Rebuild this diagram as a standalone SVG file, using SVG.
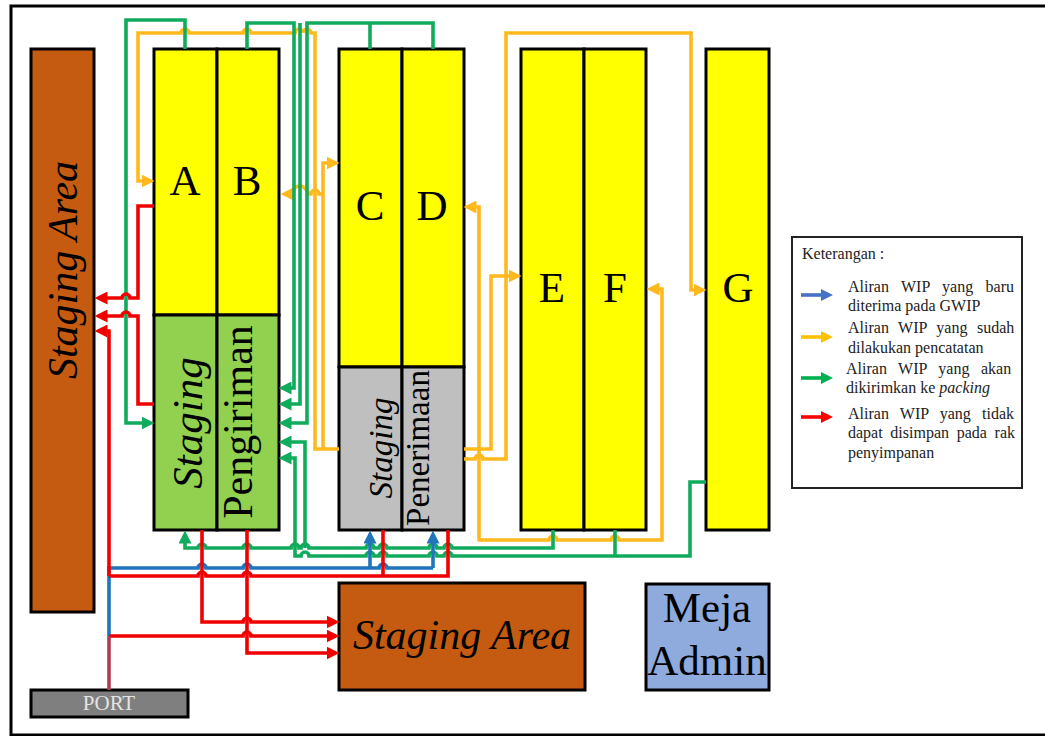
<svg xmlns="http://www.w3.org/2000/svg" width="1045" height="736" viewBox="0 0 1045 736">
<style>
text{font-family:"Liberation Serif","Times New Roman",serif;fill:#000}
.box{stroke:#000;stroke-width:3}
.y{fill:#FFFF00}.g{fill:#92D050}.s{fill:#BFBFBF}.b{fill:#C55A11}
.big{font-size:43px;text-anchor:middle}
.it{font-style:italic}
.leg{font-size:16px;fill:#222}
.c{fill:none;stroke-width:3.6}
.cg{stroke:#10AB5C}.co{stroke:#FFB91D}.cr{stroke:#F00000}.cb{stroke:#1F74BC}
</style>
<defs>
<marker id="ag" viewBox="0 0 12 12" refX="6" refY="6" markerWidth="13" markerHeight="13" markerUnits="userSpaceOnUse" orient="auto"><path d="M0 0L12 6L0 12z" fill="#10AB5C"/></marker>
<marker id="ao" viewBox="0 0 12 12" refX="6" refY="6" markerWidth="13" markerHeight="13" markerUnits="userSpaceOnUse" orient="auto"><path d="M0 0L12 6L0 12z" fill="#FFB91D"/></marker>
<marker id="ar" viewBox="0 0 12 12" refX="6" refY="6" markerWidth="13" markerHeight="13" markerUnits="userSpaceOnUse" orient="auto"><path d="M0 0L12 6L0 12z" fill="#F00000"/></marker>
<marker id="ab" viewBox="0 0 12 12" refX="6" refY="6" markerWidth="13" markerHeight="13" markerUnits="userSpaceOnUse" orient="auto"><path d="M0 0L12 6L0 12z" fill="#1F74BC"/></marker>
<marker id="lb" viewBox="0 0 12 12" refX="6" refY="6" markerWidth="12" markerHeight="12" markerUnits="userSpaceOnUse" orient="auto"><path d="M0 0L12 6L0 12z" fill="#4472C4"/></marker>
<marker id="lo" viewBox="0 0 12 12" refX="6" refY="6" markerWidth="12" markerHeight="12" markerUnits="userSpaceOnUse" orient="auto"><path d="M0 0L12 6L0 12z" fill="#FFC000"/></marker>
<marker id="lg" viewBox="0 0 12 12" refX="6" refY="6" markerWidth="12" markerHeight="12" markerUnits="userSpaceOnUse" orient="auto"><path d="M0 0L12 6L0 12z" fill="#00B050"/></marker>
<marker id="lr" viewBox="0 0 12 12" refX="6" refY="6" markerWidth="12" markerHeight="12" markerUnits="userSpaceOnUse" orient="auto"><path d="M0 0L12 6L0 12z" fill="#FF0000"/></marker>
</defs>
<rect width="1045" height="736" fill="#fff"/>
<rect id="frame" x="11" y="6" width="1050" height="729" fill="#fff" stroke="#000" stroke-width="3"/>

<g id="staging-left"><rect class="box b" x="31" y="49" width="63" height="563"/><text class="big it" style="font-size:42px" transform="translate(77 270) rotate(-90)">Staging Area</text></g>
<g id="A"><rect class="box y" x="154" y="49" width="63" height="266"/><text class="big" x="185" y="195">A</text></g>
<g id="B"><rect class="box y" x="217" y="49" width="62" height="266"/><text class="big" x="247" y="195">B</text></g>
<g id="staging-green"><rect class="box g" x="154" y="315" width="63" height="215"/><text class="big it" style="font-size:43px" transform="translate(202 423) rotate(-90)">Staging</text></g>
<g id="pengiriman"><rect class="box g" x="217" y="315" width="62" height="215"/><text class="big" style="font-size:42px" transform="translate(252 422) rotate(-90)">Pengiriman</text></g>
<g id="C"><rect class="box y" x="339" y="49" width="63" height="318"/><text class="big" x="370" y="220">C</text></g>
<g id="D"><rect class="box y" x="402" y="49" width="62" height="318"/><text class="big" x="432" y="220">D</text></g>
<g id="staging-grey"><rect class="box s" x="339" y="367" width="63" height="163"/><text class="big it" style="font-size:33px" transform="translate(392 448) rotate(-90)">Staging</text></g>
<g id="penerimaan"><rect class="box s" x="402" y="367" width="62" height="163"/><text class="big" style="font-size:33px" transform="translate(429 448) rotate(-90)">Penerimaan</text></g>
<g id="E"><rect class="box y" x="521" y="49" width="63" height="481"/><text class="big" x="552" y="302">E</text></g>
<g id="F"><rect class="box y" x="584" y="49" width="62" height="481"/><text class="big" x="615" y="302">F</text></g>
<g id="G"><rect class="box y" x="706" y="49" width="63" height="481"/><text class="big" x="738" y="302">G</text></g>
<g id="staging-bottom"><rect class="box b" x="339" y="583" width="246" height="107"/><text class="big it" style="font-size:42px" x="462" y="649">Staging Area</text></g>
<g id="meja-admin"><rect class="box" fill="#8FAADC" x="646" y="584" width="123" height="106"/><text class="big" x="707" y="622">Meja</text><text class="big" x="707" y="675">Admin</text></g>
<g id="port"><rect class="box" fill="#7F7F7F" x="31" y="690" width="157" height="27"/><text x="109" y="710" text-anchor="middle" style="font-size:21px;fill:#E4E4E4">PORT</text></g>

<g id="connectors">
<path class="c co" marker-end="url(#ao)" d="M339 449H315V33H311a4 4 0 0 0-8 0a4 4 0 0 0-8 0H251a4 4 0 0 0-8 0H189a4 4 0 0 0-8 0H138V181H148"/>
<path class="c co" marker-end="url(#ao)" d="M323 449V163H333"/>
<path class="c co" marker-end="url(#ao)" d="M323 194H319a4 4 0 0 0-8 0H309Q305 186 300 186Q293 186 291 194H287"/>
<path class="c co" marker-end="url(#ao)" d="M479 541V207H470"/>
<path class="c co" marker-end="url(#ao)" d="M478 540H549a4 4 0 0 1 8 0H611a4 4 0 0 1 8 0H662V289H653"/>
<path class="c co" marker-end="url(#ao)" d="M464 449H491V276H515"/>
<path class="c co" marker-end="url(#ao)" d="M464 459H475a4 4 0 0 1 8 0H506V33H691V290H700"/>
<path class="c cg" marker-end="url(#ag)" d="M185 49V20H126V423H148"/>
<path class="c cg" marker-end="url(#ag)" d="M247 49V23H294V388H285"/>
<path class="c cg" marker-end="url(#ag)" d="M300 23V404H285"/>
<path class="c cg" marker-end="url(#ag)" d="M433 49V23H307V423H285"/>
<path class="c cg" d="M370 23V49"/>
<path class="c cg" marker-end="url(#ag)" d="M553 530V548H452a4 4 0 0 0-8 0H437a4 4 0 0 0-8 0H387a4 4 0 0 0-8 0H374a4 4 0 0 0-8 0H309a4 4 0 0 0-8 0H299a4 4 0 0 0-8 0H251a4 4 0 0 0-8 0H206a4 4 0 0 0-8 0H185V537"/>
<path class="c cg" marker-end="url(#ag)" d="M305 548V442H285"/>
<path class="c cg" marker-end="url(#ag)" d="M706 482H690V556H452a4 4 0 0 0-8 0H437a4 4 0 0 0-8 0H387a4 4 0 0 0-8 0H374a4 4 0 0 0-8 0H309a4 4 0 0 0-8 0H295V458H285"/>
<path class="c cg" d="M615 530V556"/>
<path class="c cb" d="M109 636V568H198a4 4 0 0 1 8 0H243a4 4 0 0 1 8 0H379a4 4 0 0 1 8 0H433"/>
<path class="c cb" marker-end="url(#ab)" d="M370 568V537"/>
<path class="c cb" marker-end="url(#ab)" d="M433 568V537"/>
<path class="c cr" d="M448 530V576H251a4 4 0 0 0-8 0H206a4 4 0 0 0-8 0H109"/>
<path class="c cr" d="M383 530V576"/>
<path class="c cr" marker-end="url(#ar)" d="M202 530V622H243a4 4 0 0 1 8 0H333"/>
<path class="c cr" marker-end="url(#ar)" d="M247 530V653H333"/>
<path class="c cr" marker-end="url(#ar)" d="M109 636H243a4 4 0 0 1 8 0H333"/>
<path class="c" stroke="#B23A52" d="M109 636V690"/>
<path class="c cr" marker-end="url(#ar)" d="M109 576V331H101"/>
<path class="c cr" marker-end="url(#ar)" d="M154 206H138V298H130a4 4 0 0 0-8 0H101"/>
<path class="c cr" marker-end="url(#ar)" d="M154 404H138V316H130a4 4 0 0 0-8 0H101"/>
</g>

<g id="legend">
<rect x="792" y="237" width="230" height="251" fill="#fff" stroke="#222" stroke-width="2"/>
<text class="leg" x="802" y="259">Keterangan :</text>
<path class="c" stroke="#4472C4" marker-end="url(#lb)" d="M801 295H827"/>
<path class="c" stroke="#FFC000" marker-end="url(#lo)" d="M801 337H827"/>
<path class="c" stroke="#00B050" marker-end="url(#lg)" d="M801 378H827"/>
<path class="c" stroke="#FF0000" marker-end="url(#lr)" d="M801 417H827"/>
<text class="leg" x="848" y="292" word-spacing="8.4">Aliran WIP yang baru</text>
<text class="leg" x="848" y="311">diterima pada GWIP</text>
<text class="leg" x="848" y="333" word-spacing="5.5">Aliran WIP yang sudah</text>
<text class="leg" x="848" y="353">dilakukan pencatatan</text>
<text class="leg" x="846" y="374" word-spacing="7.5">Aliran WIP yang akan</text>
<text class="leg" x="846" y="393">dikirimkan ke <tspan class="it" style="fill:#222">packing</tspan></text>
<text class="leg" x="848" y="419" word-spacing="7.2">Aliran WIP yang tidak</text>
<text class="leg" x="848" y="438" word-spacing="3.7">dapat disimpan pada rak</text>
<text class="leg" x="848" y="458">penyimpanan</text>
</g>
</svg>
